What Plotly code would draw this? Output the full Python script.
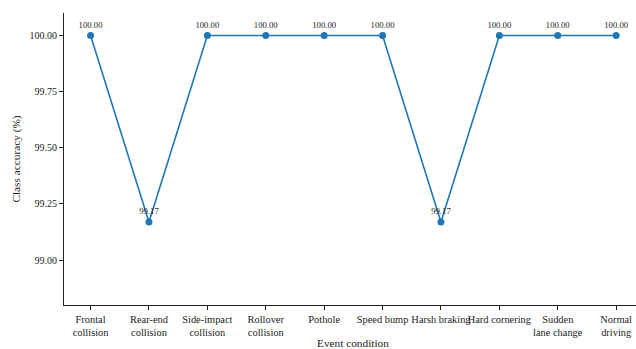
import plotly.graph_objects as go

# Per-class accuracy for each driving event
events = [
    "Frontal<br>collision", "Rear-end<br>collision", "Side-impact<br>collision",
    "Rollover<br>collision", "Pothole", "Speed bump", "Harsh braking",
    "Hard cornering", "Sudden<br>lane change", "Normal<br>driving",
]
accuracy = [100.00, 99.17, 100.00, 100.00, 100.00, 100.00, 99.17, 100.00, 100.00, 100.00]
y_ticks = [99.00, 99.25, 99.50, 99.75, 100.00]

FONT = "Liberation Serif, Times New Roman, serif"
BLUE = "#1f77b4"
INK = "#222222"

fig = go.Figure()
fig.add_trace(go.Scatter(
    x=list(range(len(events))),
    y=accuracy,
    mode="lines+markers+text",
    line=dict(color=BLUE, width=1.6),
    marker=dict(color=BLUE, size=7),
    text=[f"{v:.2f}" for v in accuracy],
    textposition="top center",
    textfont=dict(family=FONT, size=8.7, color=INK),
    cliponaxis=False,
    showlegend=False,
))

fig.update_layout(
    width=636, height=349,
    margin=dict(l=64, r=0, t=13, b=44),
    paper_bgcolor="white", plot_bgcolor="white",
    font=dict(family=FONT, size=10.4, color=INK),
    annotations=[dict(
        text="Event condition", xref="paper", yref="paper",
        x=0.505, y=0, xanchor="center", yanchor="top", yshift=-30,
        showarrow=False, font=dict(family=FONT, size=11.3, color=INK),
    )],
)
fig.update_xaxes(
    range=[-0.455, 9.34],
    tickmode="array",
    tickvals=list(range(len(events))),
    ticktext=events,
    tickangle=0,
    automargin=False,
    showline=True, linecolor=INK, linewidth=1.1,
    ticks="outside", ticklen=4, tickcolor=INK,
    showgrid=False, zeroline=False,
    tickfont=dict(family=FONT, size=10.4, color=INK),
)
fig.update_yaxes(
    range=[98.8, 100.1],
    tickmode="array",
    tickvals=y_ticks,
    ticktext=[f"{v:.2f}" for v in y_ticks],
    automargin=False,
    showline=True, linecolor=INK, linewidth=1.1,
    ticks="outside", ticklen=4, tickcolor=INK,
    showgrid=False, zeroline=False,
    tickfont=dict(family=FONT, size=10, color=INK),
    title=dict(text="Class accuracy (%)", font=dict(family=FONT, size=11.3, color=INK), standoff=6),
)

fig.write_html("out.html")
